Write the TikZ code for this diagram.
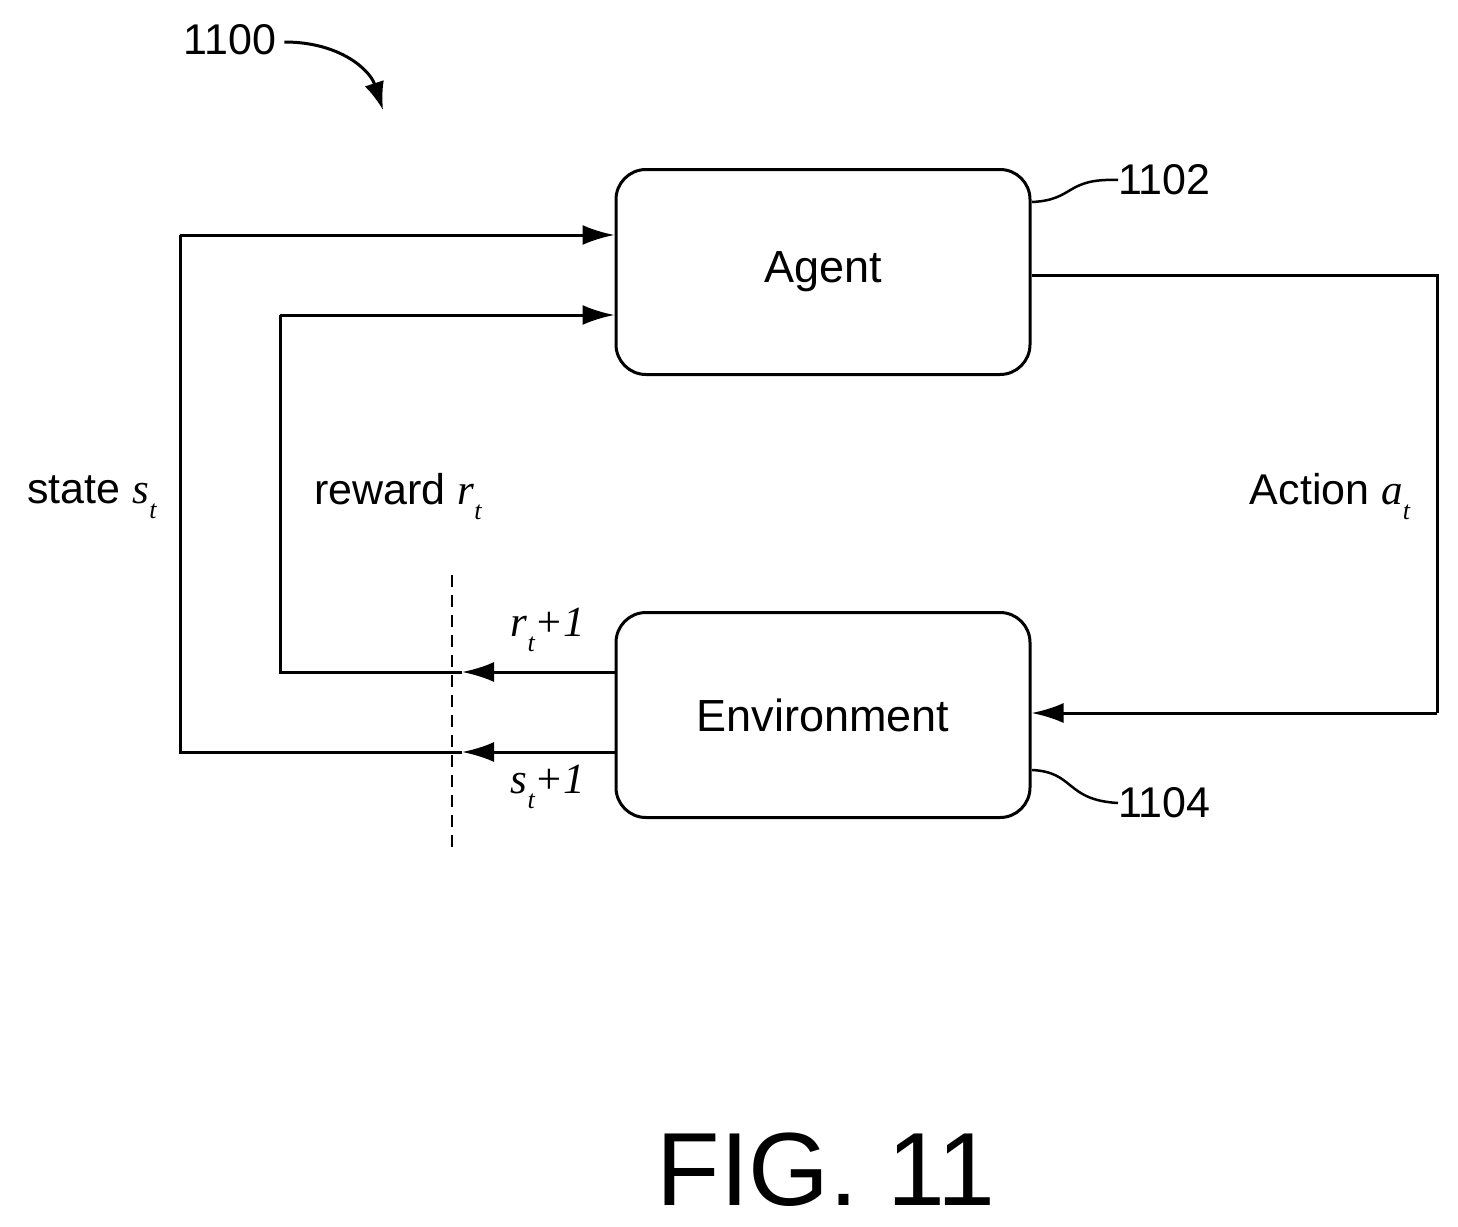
\documentclass[tikz,border=0pt]{standalone}
\usepackage{fontspec}
\setmainfont{Liberation Sans}
\newfontfamily\tms{Liberation Serif}
\usetikzlibrary{arrows.meta}
\newcommand{\vi}[2]{{\tms\itshape #1}\raisebox{-0.35em}{\fontsize{26}{26}\selectfont\tms\itshape #2}}
\begin{document}
\begin{tikzpicture}[x=1pt,y=-1pt,
  box/.style={draw,line width=3pt,rounded corners=30pt,minimum width=414pt,minimum height=205pt,font=\fontsize{45}{50}\selectfont},
  ln/.style={line width=3pt},
  ar/.style={-{Latex[length=32pt,width=20pt]}},
  lbl/.style={font=\fontsize{43}{48}\selectfont,inner sep=0pt}]
\useasboundingbox (0,0) rectangle (1458,1226);
\node[box] (agent) at (823,272) {Agent};
\node[box] (env) at (823,715) {Environment};
\coordinate (a1) at (180,235); \coordinate (a2) at (180,752);
\coordinate (b1) at (280,315); \coordinate (b2) at (280,672);
\coordinate (c1) at (1437,275); \coordinate (c2) at (1437,713);
\coordinate (m1) at (462,752); \coordinate (m2) at (462,672);
\draw[ln,ar] (env.west |- m1) -- (m1);
\draw[ln] (m1) -- (a2) -- (a1);
\draw[ln,ar] (a1) -- (agent.west |- a1);
\draw[ln,ar] (env.west |- m2) -- (m2);
\draw[ln] (m2) -- (b2) -- (b1);
\draw[ln,ar] (b1) -- (agent.west |- b1);
\draw[ln] (agent.east |- c1) -- (c1) -- (c2);
\draw[ln,ar] (c2) -- (env.east |- c2);
\coordinate (d1) at (452,575); \coordinate (d2) at (452,852);
\draw[line width=2.5pt,dash pattern=on 12pt off 8pt] (d1) -- (d2);
\node[lbl] (ls) at (92,497) {state \vi{s}{t}};
\node[lbl] (lr) at (398,497) {reward \vi{r}{t}};
\node[lbl] (la) at (1330,497) {Action \vi{a}{t}};
\node[lbl] (lr1) at (548,630) {\vi{r}{t}{\tms\itshape +1}};
\node[lbl] (ls1) at (548,787) {\vi{s}{t}{\tms\itshape +1}};
\node[lbl,anchor=west] (n1102) at (1118,180) {1102};
\node[lbl,anchor=west] (n1104) at (1118,803) {1104};
\node[lbl] (n1100) at (230,40) {1100};
\node[font=\fontsize{104}{110}\selectfont,inner sep=0pt] (fig) at (826,1170) {FIG. 11};
\coordinate (p1) at (1032,202); \coordinate (p2) at (1032,770);
\draw[line width=2.5pt] (p1) .. controls (1075,200) and (1065,178) .. (n1102.west);
\draw[line width=2.5pt] (p2) .. controls (1075,772) and (1065,800) .. (n1104.west);
\coordinate (q) at (383,110);
\draw[line width=3pt,-{Latex[length=28pt,width=20pt]}] (n1100.east) ++(8,2) .. controls (340,42) and (370,70) .. (q);
\end{tikzpicture}
\end{document}
